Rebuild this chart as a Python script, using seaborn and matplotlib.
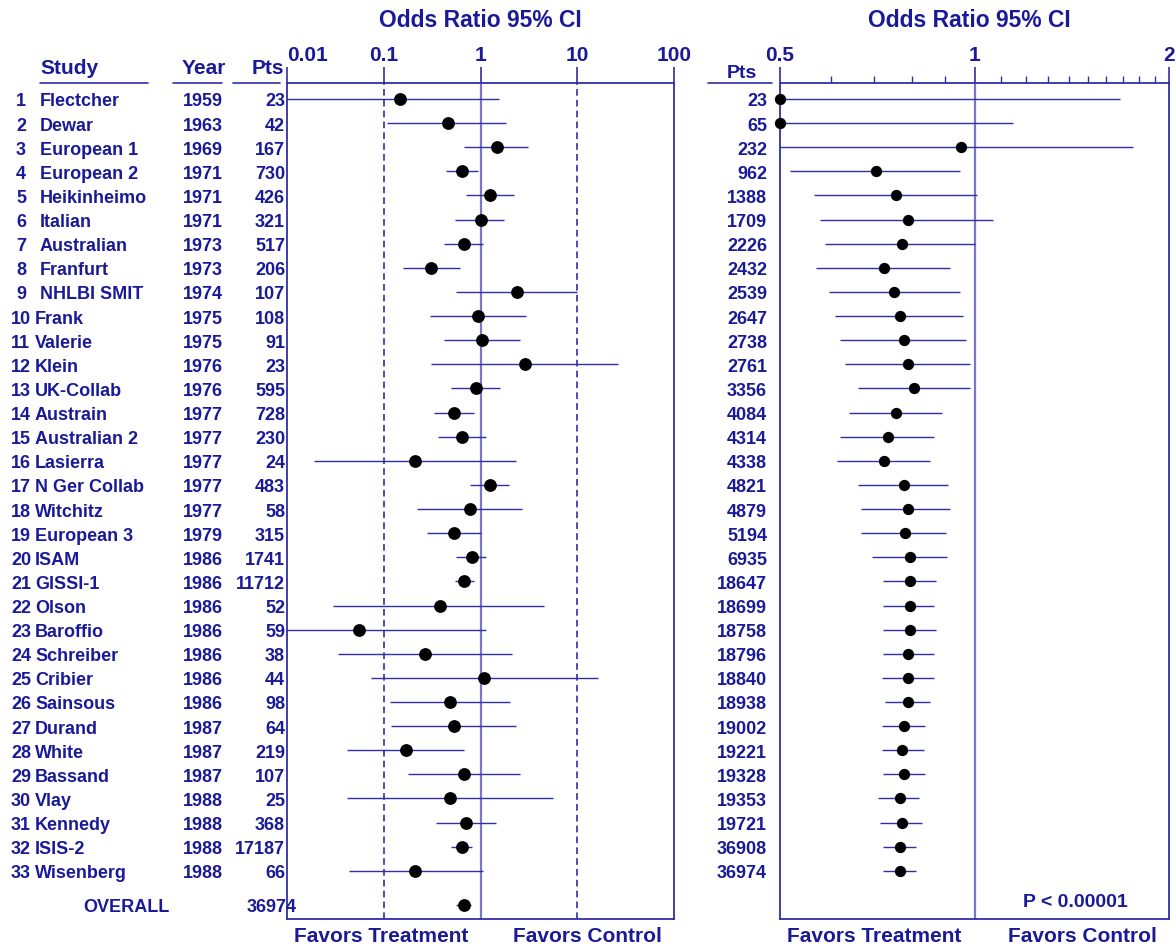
import numpy as np
import pandas as pd
import matplotlib
matplotlib.use("Agg")
import matplotlib.pyplot as plt
import seaborn as sns
from matplotlib.lines import Line2D
from matplotlib.ticker import NullLocator, FixedLocator, NullFormatter
from matplotlib.transforms import blended_transform_factory, offset_copy

# ---- data -------------------------------------------------------------
studies = ["Flectcher", "Dewar", "European 1", "European 2", "Heikinheimo", "Italian",
           "Australian", "Franfurt", "NHLBI SMIT", "Frank", "Valerie", "Klein",
           "UK-Collab", "Austrain", "Australian 2", "Lasierra", "N Ger Collab",
           "Witchitz", "European 3", "ISAM", "GISSI-1", "Olson", "Baroffio",
           "Schreiber", "Cribier", "Sainsous", "Durand", "White", "Bassand", "Vlay",
           "Kennedy", "ISIS-2", "Wisenberg"]
years = [1959, 1963, 1969, 1971, 1971, 1971, 1973, 1973, 1974, 1975, 1975, 1976,
         1976, 1977, 1977, 1977, 1977, 1977, 1979, 1986, 1986, 1986, 1986, 1986,
         1986, 1986, 1987, 1987, 1987, 1988, 1988, 1988, 1988]
pts = [23, 42, 167, 730, 426, 321, 517, 206, 107, 108, 91, 23, 595, 728, 230, 24,
       483, 58, 315, 1741, 11712, 52, 59, 38, 44, 98, 64, 219, 107, 25, 368, 17187, 66]

# individual study odds ratios with 95% CI
or_est = [0.146, 0.46, 1.47, 0.65, 1.26, 1.0, 0.68, 0.31, 2.37, 0.95, 1.04, 2.86,
          0.90, 0.53, 0.64, 0.21, 1.26, 0.78, 0.53, 0.81, 0.68, 0.38, 0.055, 0.27,
          1.09, 0.48, 0.53, 0.17, 0.67, 0.48, 0.71, 0.64, 0.21]
or_lo = [0.006, 0.107, 0.67, 0.44, 0.70, 0.55, 0.42, 0.16, 0.56, 0.30, 0.42, 0.31,
         0.50, 0.33, 0.36, 0.019, 0.77, 0.22, 0.28, 0.56, 0.54, 0.030, 0.005, 0.034,
         0.074, 0.115, 0.119, 0.042, 0.18, 0.042, 0.35, 0.50, 0.044]
or_hi = [1.57, 1.85, 3.07, 0.95, 2.24, 1.74, 1.07, 0.61, 10.0, 2.96, 2.57, 26.3,
         1.60, 0.86, 1.13, 2.33, 1.99, 2.69, 1.0, 1.13, 0.86, 4.50, 1.13, 2.12,
         16.2, 2.04, 2.33, 0.67, 2.57, 5.6, 1.45, 0.81, 1.07]
overall_pts = 36974
overall_or, overall_lo, overall_hi = 0.67, 0.56, 0.80

# cumulative meta-analysis
cum_pts = [23, 65, 232, 962, 1388, 1709, 2226, 2432, 2539, 2647, 2738, 2761, 3356,
           4084, 4314, 4338, 4821, 4879, 5194, 6935, 18647, 18699, 18758, 18796,
           18840, 18938, 19002, 19221, 19328, 19353, 19721, 36908, 36974]
cum_or = [0.5, 0.5, 0.952, 0.703, 0.755, 0.789, 0.772, 0.724, 0.75, 0.766, 0.777,
          0.789, 0.805, 0.755, 0.734, 0.724, 0.777, 0.789, 0.782, 0.794, 0.794,
          0.794, 0.794, 0.789, 0.789, 0.789, 0.777, 0.772, 0.777, 0.766, 0.772,
          0.766, 0.766]
cum_lo = [0.3, 0.3, 0.45, 0.519, 0.565, 0.577, 0.587, 0.569, 0.595, 0.608, 0.620,
          0.631, 0.66, 0.639, 0.62, 0.613, 0.66, 0.668, 0.668, 0.694, 0.723, 0.723,
          0.723, 0.723, 0.718, 0.728, 0.718, 0.718, 0.723, 0.708, 0.713, 0.723, 0.723]
cum_hi = [1.68, 1.146, 1.76, 0.949, 1.01, 1.067, 1.0, 0.916, 0.949, 0.961, 0.969,
          0.985, 0.985, 0.89, 0.866, 0.853, 0.911, 0.915, 0.902, 0.906, 0.872,
          0.866, 0.872, 0.866, 0.866, 0.853, 0.839, 0.836, 0.839, 0.822, 0.83,
          0.811, 0.811]
p_text = "P < 0.00001"

left_ticks = [0.01, 0.1, 1, 10, 100]
left_ticklabels = ["0.01", "0.1", "1", "10", "100"]
right_ticks = [0.5, 1, 2]
right_ticklabels = ["0.5", "1", "2"]
right_minor = [0.6, 0.7, 0.8, 0.9, 1.1, 1.2, 1.3, 1.4, 1.5, 1.6, 1.7, 1.8, 1.9]

# ---- style ------------------------------------------------------------
sns.set_theme(style="white")
plt.rcParams["font.family"] = ["Liberation Sans", "DejaVu Sans"]
plt.rcParams["font.weight"] = "bold"

TXT = "#1a1a99"
LINE = "#2e2ea8"
LIGHT = "#7878c8"

W, H = 1176, 945
fig = plt.figure(figsize=(W / 100, H / 100), dpi=100)
fig.patch.set_facecolor("white")


def fx(p):
    return p / W


def fy(p):
    return 1 - p / H


AX_TOP, AX_BOT = 84, 920
axL = fig.add_axes([fx(287), fy(AX_BOT), fx(674) - fx(287), fy(AX_TOP) - fy(AX_BOT)])
axR = fig.add_axes([fx(780), fy(AX_BOT), fx(1169) - fx(780), fy(AX_TOP) - fy(AX_BOT)])

ROW0, STEP = 100.0, 24.12
y_top = 1 - (ROW0 - AX_TOP) / STEP
y_bot = 1 + (AX_BOT - ROW0) / STEP
overall_row = 1 + (906 - ROW0) / STEP

rows = np.arange(1, len(studies) + 1)

df = pd.DataFrame({"row": rows, "study": studies, "year": years, "pts": pts,
                   "or": or_est, "lo": or_lo, "hi": or_hi,
                   "cum_pts": cum_pts, "cum_or": cum_or, "cum_lo": cum_lo, "cum_hi": cum_hi})
ov = pd.DataFrame({"row": [overall_row], "or": [overall_or],
                   "lo": [overall_lo], "hi": [overall_hi]})

# ---- left panel: individual trials ------------------------------------
axL.set_xscale("log")
axL.set_xlim(0.01, 100)
axL.set_ylim(y_bot, y_top)
axL.axvline(0.1, color=LINE, lw=1.2, ls=(0, (4, 2.5)), zorder=1)
axL.axvline(10, color=LINE, lw=1.2, ls=(0, (4, 2.5)), zorder=1)
axL.axvline(1, color=LIGHT, lw=1.6, zorder=1)
axL.hlines(df["row"], df["lo"], df["hi"], colors=LINE, lw=1.0, zorder=2)
axL.hlines(ov["row"], ov["lo"], ov["hi"], colors=LINE, lw=1.0, zorder=2)
sns.scatterplot(data=df, x="or", y="row", ax=axL, color="black", s=85,
                edgecolor="black", linewidth=0, legend=False, zorder=3, clip_on=False)
sns.scatterplot(data=ov, x="or", y="row", ax=axL, color="black", s=85,
                edgecolor="black", linewidth=0, legend=False, zorder=3, clip_on=False)

# ---- right panel: cumulative ------------------------------------------
axR.set_xscale("log", base=2)
axR.set_xlim(0.5, 2)
axR.set_ylim(y_bot, y_top)
axR.axvline(1, color=LIGHT, lw=1.6, zorder=1)
axR.hlines(df["row"], df["cum_lo"], df["cum_hi"], colors=LINE, lw=1.0, zorder=2)
sns.scatterplot(data=df, x="cum_or", y="row", ax=axR, color="black", s=66,
                edgecolor="black", linewidth=0, legend=False, zorder=3, clip_on=False)

for ax in (axL, axR):
    ax.set_xlabel("")
    ax.set_ylabel("")
    ax.set_yticks([])
    ax.set_facecolor("white")
    for sp in ax.spines.values():
        sp.set_color(LINE)
        sp.set_linewidth(1.3)
        sp.set_visible(True)
    ax.xaxis.set_ticks_position("top")
    ax.tick_params(axis="x", which="major", direction="out", length=11.5, width=1.2,
                   color=LINE, pad=2, labelsize=15, labelcolor=TXT,
                   top=True, bottom=False, labeltop=True, labelbottom=False)

axL.xaxis.set_major_locator(FixedLocator(left_ticks))
axL.set_xticklabels(left_ticklabels)
axL.xaxis.set_minor_locator(NullLocator())
axL.xaxis.get_major_ticks()[0].label2.set_horizontalalignment("left")

axR.xaxis.set_major_locator(FixedLocator(right_ticks))
axR.set_xticklabels(right_ticklabels)
axR.xaxis.set_minor_locator(FixedLocator(right_minor))
axR.xaxis.set_minor_formatter(NullFormatter())
axR.tick_params(axis="x", which="minor", direction="out", length=5, width=1.0,
                color=LINE, top=True, bottom=False)

# ---- text columns -----------------------------------------------------
FS = 13
trL = offset_copy(blended_transform_factory(fig.transFigure, axL.transData),
                  fig=fig, x=0, y=-6.5, units="dots")
for r, name, yr, n in zip(rows, studies, years, pts):
    if r < 10:
        fig.text(fx(26), r, str(r), transform=trL, ha="right", va="baseline",
                 fontsize=FS, color=TXT)
        fig.text(fx(40), r, name, transform=trL, ha="left", va="baseline",
                 fontsize=FS, color=TXT)
    else:
        fig.text(fx(11), r, str(r), transform=trL, ha="left", va="baseline",
                 fontsize=FS, color=TXT)
        fig.text(fx(35), r, name, transform=trL, ha="left", va="baseline",
                 fontsize=FS, color=TXT)
    fig.text(fx(203), r, str(yr), transform=trL, ha="center", va="baseline",
             fontsize=FS, color=TXT)
    fig.text(fx(285), r, str(n), transform=trL, ha="right", va="baseline",
             fontsize=FS, color=TXT)

for r, n in zip(rows, cum_pts):
    fig.text(fx(767), r, str(n), transform=trL, ha="right", va="baseline",
             fontsize=FS, color=TXT)

fig.text(fx(83), overall_row, "OVERALL", transform=trL, ha="left", va="baseline",
         fontsize=FS, color=TXT)
fig.text(fx(272), overall_row, str(overall_pts), transform=trL, ha="center",
         va="baseline", fontsize=FS, color=TXT)

# headers
fig.text(fx(40), fy(74), "Study", fontsize=15, color=TXT, ha="left", va="baseline")
fig.text(fx(182), fy(74), "Year", fontsize=15, color=TXT, ha="left", va="baseline")
fig.text(fx(252), fy(74), "Pts", fontsize=15, color=TXT, ha="left", va="baseline")
fig.text(fx(727), fy(78), "Pts", fontsize=14, color=TXT, ha="left", va="baseline")
for x0, x1 in [(40, 148), (173, 222), (233, 280), (708, 772)]:
    fig.add_artist(Line2D([fx(x0), fx(x1)], [fy(84), fy(84)], transform=fig.transFigure,
                          color=LINE, lw=1.2))

fig.text(fx(480), fy(27), "Odds Ratio 95% CI", fontsize=16.5, color=TXT,
         ha="center", va="baseline")
fig.text(fx(969), fy(27), "Odds Ratio 95% CI", fontsize=16.5, color=TXT,
         ha="center", va="baseline")

# footers
fig.text(fx(294), fy(942), "Favors Treatment", fontsize=15, color=TXT, ha="left", va="baseline")
fig.text(fx(513), fy(942), "Favors Control", fontsize=15, color=TXT, ha="left", va="baseline")
fig.text(fx(787), fy(942), "Favors Treatment", fontsize=15, color=TXT, ha="left", va="baseline")
fig.text(fx(1008), fy(942), "Favors Control", fontsize=15, color=TXT, ha="left", va="baseline")
fig.text(fx(1023), fy(907), p_text, fontsize=14, color=TXT, ha="left", va="baseline")

fig.savefig("out.png", dpi=100, facecolor="white")
